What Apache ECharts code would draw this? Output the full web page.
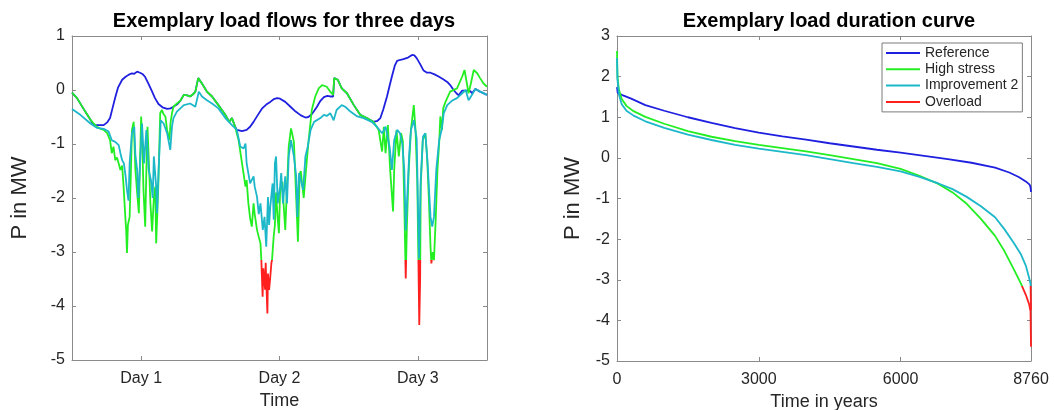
<!DOCTYPE html>
<html><head><meta charset="utf-8">
<script src="https://cdn.jsdelivr.net/npm/echarts@6/dist/echarts.min.js"></script>
<style>html,body{margin:0;padding:0;background:#fff}#c{width:1054px;height:410px}</style>
</head><body><div id="c"></div><script>
// ---------- data ----------
const dayTicks = [12, 36, 60];
const dayLabels = ['Day 1', 'Day 2', 'Day 3'];
const ldcTicks = [0, 3000, 6000, 8760];
const overloadLimit = -3.15;

// left chart: [hour, MW]
const refFlow = [[0,-0.05],[0.87,-0.15],[2.3,-0.40],[3.2,-0.55],[3.76,-0.65],[4.06,-0.68],[5.5,-0.65],[6.1,-0.6],[6.6,-0.52],[7.0,-0.35],[7.5,-0.14],[8.0,0.05],[8.7,0.19],[9.25,0.24],[9.8,0.28],[10.4,0.31],[10.8,0.30],[11.3,0.34],[11.8,0.32],[12.3,0.29],[12.7,0.24],[13.3,0.11],[13.9,-0.03],[14.4,-0.15],[15.0,-0.26],[15.7,-0.32],[16.5,-0.35],[17.1,-0.34],[17.6,-0.31],[18.2,-0.27],[18.8,-0.2],[19.4,-0.09],[20.0,-0.1],[20.5,-0.12],[21.0,-0.08],[21.4,-0.03],[21.7,0.0],[21.9,0.22],[22.2,0.2],[22.55,0.12],[23.0,0.04],[23.4,-0.03],[24.3,-0.12],[25.4,-0.28],[26.0,-0.37],[26.6,-0.46],[27.3,-0.59],[27.75,-0.52],[28.3,-0.68],[28.6,-0.74],[29.5,-0.76],[30.3,-0.74],[30.9,-0.68],[31.5,-0.59],[32.2,-0.47],[33.0,-0.34],[33.7,-0.27],[34.4,-0.22],[35.0,-0.17],[35.6,-0.15],[36.1,-0.16],[37.0,-0.22],[37.9,-0.31],[38.8,-0.40],[39.7,-0.47],[40.5,-0.51],[41.0,-0.50],[41.5,-0.46],[42.0,-0.39],[42.5,-0.31],[43.1,-0.2],[43.7,-0.13],[44.3,-0.11],[44.8,-0.12],[45.3,-0.12],[45.5,0.22],[46.1,0.19],[46.8,0.03],[47.7,-0.06],[48.9,-0.28],[50.0,-0.46],[51.5,-0.54],[52.3,-0.59],[53.0,-0.57],[53.5,-0.52],[54.0,-0.36],[54.65,-0.12],[55.1,0.08],[55.5,0.25],[56.0,0.45],[56.4,0.54],[57.0,0.56],[57.5,0.57],[58.3,0.6],[59.0,0.65],[59.4,0.64],[59.8,0.59],[60.4,0.48],[61.0,0.36],[61.6,0.32],[62.2,0.32],[62.9,0.29],[63.6,0.25],[64.4,0.2],[65.1,0.15],[65.7,0.08],[66.2,0.0],[66.7,-0.06],[67.1,-0.1],[67.4,-0.05],[67.7,-0.01],[68.4,-0.01],[69.1,-0.02],[69.4,-0.06],[70.0,0.02],[70.8,-0.03],[72,-0.09]];
const highFlow = [[0,-0.05],[0.87,-0.15],[2.3,-0.40],[3.2,-0.55],[3.75,-0.62],[4.3,-0.68],[5.0,-0.72],[5.5,-0.74],[6.1,-0.80],[6.6,-0.93],[6.9,-1.17],[7.2,-1.05],[7.5,-1.30],[7.8,-1.25],[8.1,-1.36],[8.4,-1.48],[8.7,-1.4],[8.95,-1.79],[9.25,-2.35],[9.4,-2.6],[9.54,-3.02],[9.7,-2.5],[10.0,-2.35],[10.2,-1.6],[10.4,-0.74],[10.7,-0.59],[11.0,-1.48],[11.3,-1.9],[11.6,-2.28],[11.8,-1.3],[12.0,-0.49],[12.2,-1.0],[12.4,-1.85],[12.7,-2.53],[12.9,-1.5],[13.1,-0.68],[13.4,-1.5],[13.6,-2.10],[13.9,-2.62],[14.2,-2.0],[14.45,-1.79],[14.6,-2.84],[14.8,-2.3],[15.0,-1.67],[15.3,-0.43],[15.6,-0.37],[15.9,-0.45],[16.2,-0.49],[16.5,-0.74],[16.9,-0.93],[17.1,-0.6],[17.35,-0.43],[17.6,-0.31],[18.2,-0.25],[18.8,-0.2],[19.4,-0.09],[20.0,-0.1],[20.5,-0.12],[21.0,-0.08],[21.4,-0.03],[21.7,0.0],[21.9,0.22],[22.2,0.2],[22.55,0.12],[23.0,0.04],[23.4,-0.03],[24.3,-0.12],[25.4,-0.28],[26.0,-0.37],[26.6,-0.46],[27.3,-0.59],[27.75,-0.52],[28.3,-0.68],[28.9,-0.93],[29.5,-1.36],[30.1,-1.79],[30.3,-1.67],[30.6,-2.10],[30.9,-2.37],[31.2,-2.53],[31.5,-2.1],[31.7,-2.3],[32.1,-2.59],[32.4,-2.72],[32.7,-2.84],[32.85,-3.15],[33.07,-3.83],[33.2,-3.3],[33.5,-3.7],[33.6,-3.2],[33.9,-4.14],[34.0,-3.4],[34.2,-3.7],[34.4,-3.46],[34.6,-3.2],[34.7,-3.15],[35.0,-2.7],[35.2,-2.5],[35.4,-1.9],[35.7,-2.4],[35.9,-2.65],[36.1,-1.9],[36.5,-1.7],[36.7,-2.1],[37.0,-2.59],[37.3,-1.8],[37.6,-1.05],[38.0,-0.71],[38.5,-0.96],[38.7,-1.48],[39.0,-2.28],[39.2,-2.81],[39.5,-1.55],[39.7,-1.5],[40.2,-2.0],[40.6,-1.48],[41.05,-0.93],[41.6,-0.37],[42.2,-0.12],[42.8,0.03],[43.4,0.09],[44.2,0.06],[44.8,-0.03],[45.3,-0.09],[45.5,0.22],[46.1,0.19],[46.8,0.03],[47.7,-0.06],[48.9,-0.28],[50.0,-0.46],[51.5,-0.54],[52.3,-0.59],[53.2,-0.74],[53.5,-0.74],[53.8,-1.14],[54.1,-0.68],[54.4,-1.17],[54.8,-0.65],[55.2,-1.48],[55.7,-2.25],[55.9,-1.48],[56.3,-0.74],[56.7,-1.23],[57.1,-0.80],[57.4,-0.95],[57.65,-2.10],[57.9,-3.49],[58.1,-2.53],[58.4,-1.54],[58.8,-0.74],[59.3,-0.28],[59.6,-0.74],[59.9,-1.67],[60.1,-3.15],[60.25,-4.35],[60.4,-3.5],[60.5,-1.79],[60.85,-0.93],[61.3,-0.80],[61.6,-1.23],[61.9,-1.98],[62.2,-2.9],[62.35,-3.21],[62.6,-3.0],[62.8,-3.15],[63.1,-2.4],[63.4,-1.48],[63.7,-0.99],[63.9,-0.49],[64.2,-0.74],[64.4,-0.34],[64.8,-0.22],[65.6,-0.03],[66.8,0.03],[67.7,0.25],[68.1,0.37],[68.4,0.19],[68.8,-0.06],[69.2,0.12],[69.7,0.37],[70.3,0.31],[70.8,0.22],[71.4,0.12],[72,0.06]];
const impFlow = [[0,-0.35],[1.44,-0.46],[3.2,-0.62],[4.3,-0.70],[5.5,-0.72],[6.35,-0.77],[6.9,-0.93],[7.5,-0.96],[8.1,-1.02],[8.4,-1.17],[8.7,-1.30],[9.0,-1.36],[9.3,-1.6],[9.54,-1.85],[9.8,-2.05],[10.0,-1.36],[10.4,-0.80],[10.8,-0.68],[11.0,-1.2],[11.3,-1.48],[11.5,-2.0],[11.7,-1.6],[12.15,-0.62],[12.5,-1.36],[12.9,-0.74],[13.3,-1.48],[13.7,-1.67],[14.0,-2.0],[14.2,-1.23],[14.6,-1.79],[14.75,-2.28],[15.0,-1.54],[15.4,-0.56],[15.9,-0.62],[16.5,-0.80],[17.05,-1.11],[17.35,-0.68],[17.6,-0.52],[18.2,-0.40],[18.8,-0.34],[19.4,-0.28],[20.5,-0.25],[21.4,-0.31],[22.0,-0.03],[22.55,-0.12],[23.4,-0.19],[24.3,-0.25],[25.4,-0.34],[26.6,-0.52],[27.75,-0.65],[28.6,-0.74],[29.2,-1.05],[29.8,-1.08],[30.1,-0.99],[30.3,-1.36],[30.9,-1.73],[31.5,-1.6],[31.7,-1.79],[32.1,-1.98],[32.4,-2.3],[32.7,-2.1],[33.1,-2.59],[33.4,-2.35],[33.7,-2.9],[34.0,-1.98],[34.2,-2.5],[34.4,-2.16],[34.8,-1.73],[35.0,-2.4],[35.2,-1.36],[35.4,-1.23],[35.7,-2.1],[36.1,-1.79],[36.3,-1.54],[36.6,-2.1],[37.0,-1.6],[37.3,-2.1],[37.6,-1.23],[38.0,-0.93],[38.5,-1.23],[38.9,-1.6],[39.1,-2.35],[39.4,-1.54],[39.7,-1.54],[40.1,-1.85],[40.5,-1.23],[40.9,-1.05],[41.4,-0.74],[42.0,-0.59],[43.1,-0.52],[43.7,-0.46],[44.2,-0.48],[44.8,-0.43],[45.4,-0.56],[45.9,-0.37],[46.2,-0.34],[46.8,-0.28],[47.4,-0.31],[48.3,-0.40],[49.5,-0.49],[50.6,-0.52],[52.0,-0.59],[52.9,-0.68],[53.8,-0.80],[54.1,-0.75],[54.4,-0.68],[54.6,-0.71],[55.1,-1.05],[55.5,-1.48],[55.9,-0.93],[56.4,-0.74],[56.9,-0.80],[57.3,-0.99],[57.65,-1.48],[57.9,-2.6],[58.2,-1.9],[58.5,-1.2],[58.8,-0.74],[59.3,-0.56],[59.8,-0.9],[60.0,-2.0],[60.2,-3.12],[60.35,-2.4],[60.5,-1.67],[60.9,-0.86],[61.3,-0.80],[61.7,-1.36],[62.2,-2.35],[62.5,-2.53],[62.8,-2.35],[63.2,-1.48],[63.7,-0.93],[64.1,-0.75],[64.5,-0.43],[65.1,-0.28],[65.9,-0.2],[66.8,-0.15],[67.7,-0.06],[68.3,0.0],[68.8,-0.19],[69.4,-0.09],[70.0,0.02],[70.8,-0.03],[72,-0.09]];

// right chart: [hours of the year, MW], sorted (load duration curve)
const refLdc = [[0,1.74],[15,1.6],[100,1.55],[300,1.46],[600,1.3],[1000,1.16],[1500,1.0],[2000,0.86],[2500,0.73],[3000,0.62],[3500,0.53],[4000,0.45],[4500,0.36],[5000,0.28],[5500,0.2],[6000,0.13],[6500,0.05],[7000,-0.03],[7500,-0.12],[8000,-0.24],[8300,-0.36],[8500,-0.47],[8650,-0.58],[8730,-0.66],[8750,-0.72],[8760,-0.84]];
const highLdc = [[0,2.63],[10,2.0],[40,1.68],[100,1.45],[200,1.28],[350,1.15],[600,1.01],[1000,0.84],[1500,0.66],[2000,0.52],[2500,0.41],[3000,0.32],[3500,0.24],[4000,0.16],[4500,0.07],[5000,-0.03],[5500,-0.13],[6000,-0.27],[6400,-0.44],[6800,-0.64],[7100,-0.85],[7400,-1.13],[7700,-1.5],[8000,-1.92],[8200,-2.3],[8400,-2.75],[8550,-3.1],[8650,-3.37],[8720,-3.6],[8750,-3.78],[8760,-4.65]];
const impLdc = [[0,2.46],[10,1.93],[40,1.56],[100,1.32],[200,1.16],[350,1.04],[600,0.9],[1000,0.74],[1500,0.57],[2000,0.44],[2500,0.32],[3000,0.23],[3500,0.15],[4000,0.07],[4500,-0.03],[5000,-0.13],[5500,-0.22],[6000,-0.33],[6400,-0.47],[6800,-0.63],[7100,-0.77],[7400,-0.96],[7700,-1.19],[8000,-1.46],[8200,-1.76],[8400,-2.1],[8550,-2.38],[8650,-2.65],[8720,-2.95],[8750,-3.1],[8760,-3.75]];

// ---------- style ----------
const FONT = '"Liberation Sans", Arial, Helvetica, sans-serif';
const AX = '#8a8a8a', TXT = '#262626';
const C_REF = '#1f1fe0', C_HIGH = '#22ee22', C_IMP = '#1cb7c9', C_OVER = '#ff1f1f';

function xAx(grid, min, max, ticks, fmt, name, gap, top) {
  return {
    type: 'value', gridIndex: grid, min: min, max: max, position: top ? 'top' : 'bottom',
    axisLine: {show: true, onZero: false, lineStyle: {color: AX, width: 1}},
    axisTick: {show: true, inside: true, length: 4, customValues: ticks, lineStyle: {color: AX}},
    axisLabel: {show: !top, customValues: ticks, formatter: fmt, color: TXT, fontSize: 16, fontFamily: FONT, margin: 11},
    splitLine: {show: false},
    name: top ? '' : name, nameLocation: 'middle', nameGap: gap,
    nameTextStyle: {color: TXT, fontSize: 18, fontFamily: FONT}
  };
}
function yAx(grid, min, max, name, gap, right) {
  return {
    type: 'value', gridIndex: grid, min: min, max: max, interval: 1, position: right ? 'right' : 'left',
    axisLine: {show: true, onZero: false, lineStyle: {color: AX, width: 1}},
    axisTick: {show: true, inside: true, length: 4, lineStyle: {color: AX}},
    axisLabel: {show: !right, color: TXT, fontSize: 16, fontFamily: FONT, margin: 7},
    splitLine: {show: false},
    name: right ? '' : name, nameLocation: 'middle', nameGap: gap, nameRotate: 90,
    nameTextStyle: {color: TXT, fontSize: 22, fontFamily: FONT}
  };
}
// color === null -> colour comes from the visualMap (overload threshold)
function line(name, data, color, xi, yi) {
  const s = {name: name, type: 'line', data: data, xAxisIndex: xi, yAxisIndex: yi,
    showSymbol: false, symbol: 'none', lineStyle: {width: 1.8},
    animation: false, silent: true};
  if (color) { s.lineStyle.color = color; s.itemStyle = {color: color}; }
  return s;
}

const chart = echarts.init(document.getElementById('c'), null, {renderer: 'canvas'});
chart.setOption({
  backgroundColor: '#fff',
  animation: false,
  textStyle: {fontFamily: FONT},
  title: [
    {text: 'Exemplary load flows for three days', left: 279, top: 6, textAlign: 'center',
     textStyle: {fontSize: 20, fontWeight: 'bold', color: '#000', fontFamily: FONT}},
    {text: 'Exemplary load duration curve', left: 824, top: 6, textAlign: 'center',
     textStyle: {fontSize: 20, fontWeight: 'bold', color: '#000', fontFamily: FONT}}
  ],
  grid: [
    {left: 72, top: 36, width: 415, height: 324, outerBoundsMode: 'none', containLabel: false},
    {left: 617, top: 36, width: 414, height: 325, outerBoundsMode: 'none', containLabel: false}
  ],
  xAxis: [
    xAx(0, 0, 72, dayTicks, v => dayLabels[dayTicks.indexOf(v)] || '', 'Time', 30, false),
    xAx(0, 0, 72, dayTicks, null, '', 0, true),
    xAx(1, 0, 8760, ldcTicks, v => String(v), 'Time in years', 28, false),
    xAx(1, 0, 8760, ldcTicks, null, '', 0, true)
  ],
  yAxis: [
    yAx(0, -5, 1, 'P in MW', 41, false),
    yAx(0, -5, 1, '', 0, true),
    yAx(1, -5, 3, 'P in MW', 33, false),
    yAx(1, -5, 3, '', 0, true)
  ],
  visualMap: [
    {type: 'piecewise', show: false, seriesIndex: [1, 4], dimension: 1,
     pieces: [{min: -6, max: overloadLimit, color: C_OVER}, {min: overloadLimit, max: 4, color: C_HIGH}],
     outOfRange: {color: C_HIGH}},
    {type: 'piecewise', show: false, seriesIndex: [2, 5], dimension: 1,
     pieces: [{min: -6, max: overloadLimit, color: C_OVER}, {min: overloadLimit, max: 4, color: C_IMP}],
     outOfRange: {color: C_IMP}}
  ],
  legend: {
    show: true, orient: 'vertical', left: 882, top: 43,
    data: [
      {name: 'Reference', itemStyle: {color: C_REF}},
      {name: 'High stress', itemStyle: {color: C_HIGH}},
      {name: 'Improvement 2', itemStyle: {color: C_IMP}},
      {name: 'Overload', itemStyle: {color: C_OVER}}
    ],
    icon: 'rect', itemWidth: 34, itemHeight: 2, itemGap: 2.3,
    padding: [3, 4, 3, 4], borderColor: '#7a7a7a', borderWidth: 1, backgroundColor: '#fff',
    textStyle: {fontSize: 14, color: TXT, fontFamily: FONT, lineHeight: 14},
    selectedMode: false
  },
  series: [
    line('Reference', refFlow, C_REF, 0, 0),
    line('High stress', highFlow, null, 0, 0),
    line('Improvement 2', impFlow, null, 0, 0),
    line('Reference', refLdc, C_REF, 2, 2),
    line('High stress', highLdc, null, 2, 2),
    line('Improvement 2', impLdc, null, 2, 2),
    line('Overload', [], C_OVER, 2, 2)
  ]
});
</script></body></html>
